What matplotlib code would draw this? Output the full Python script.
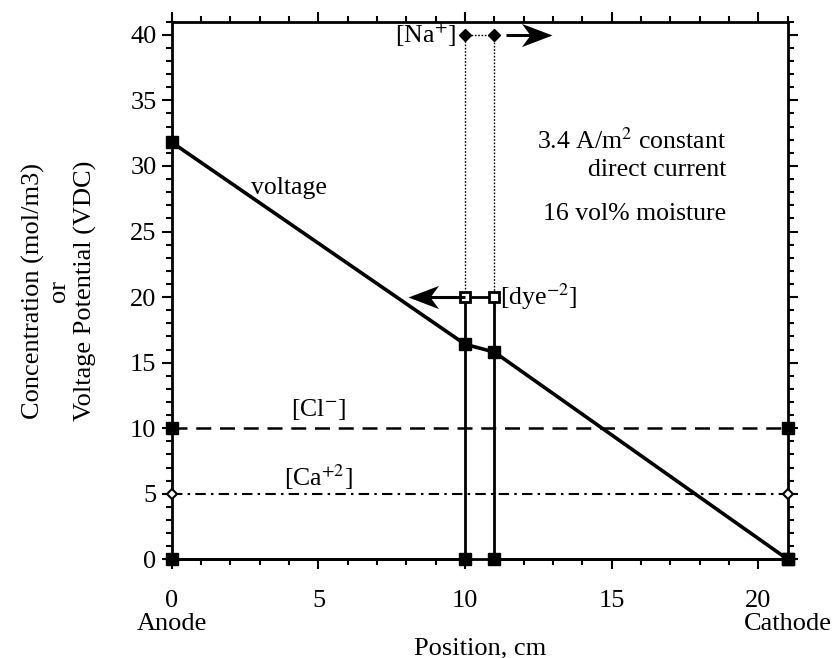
import matplotlib
matplotlib.use("Agg")
import matplotlib.pyplot as plt
from matplotlib.ticker import MultipleLocator
from matplotlib.path import Path

plt.rcParams['font.family'] = ['Liberation Serif', 'DejaVu Serif']
plt.rcParams['mathtext.fontset'] = 'stix'

# Data
volt_x = [0, 10, 11, 21]
volt_y = [31.8, 16.4, 15.8, 0]
cl_x = [0, 21]
cl_y = [10, 10]
ca_x = [0, 21]
ca_y = [5, 5]
dye_x = [0, 10, 10, 11, 11, 21]
dye_y = [0, 0, 20, 20, 0, 0]
na_x = [10, 10, 11, 11]
na_y = [0, 40, 40, 0]
# migration arrows (start, tip) in data units
dye_arrow = ([10, 8.05], [20, 20])
na_arrow = ([11.4, 12.95], [40, 40])

fig = plt.figure(figsize=(8.38, 6.58), dpi=100)
ax = fig.add_axes([0.205, 0.150, 0.735, 0.817])

# barbed arrow-head marker, tip at the origin
def head(direction):
    s = 1 if direction > 0 else -1
    verts = [(0, 0), (-s * 1.0, 0.38), (-s * 0.72, 0), (-s * 1.0, -0.38), (0, 0)]
    codes = [Path.MOVETO, Path.LINETO, Path.LINETO, Path.LINETO, Path.CLOSEPOLY]
    return Path(verts, codes)

# Na+ dotted
ax.plot(na_x, na_y, color='black', lw=1.0, ls=(0, (1.2, 1.2)), zorder=2)
ax.plot([10, 11], [40, 40], ls='none', marker='D', ms=6, color='black', clip_on=False, zorder=4)

# dye
ax.plot(dye_x, dye_y, color='black', lw=2.0, zorder=3, clip_on=False)
ax.plot([10, 11], [20, 20], ls='none', marker='s', ms=6.5, mfc='white', mec='black', mew=2, zorder=4)
ax.plot([0, 10, 11, 21], [0, 0, 0, 0], ls='none', marker='s', ms=8.5, color='black', clip_on=False, zorder=5)

# Cl-
ax.plot(cl_x, cl_y, color='black', lw=1.8, ls=(0, (6, 3.5)), marker='s', ms=8.5, clip_on=False, zorder=3)
# Ca+2
ax.plot(ca_x, ca_y, color='black', lw=1.5, ls=(0, (5, 2.5, 1.2, 2.5)), marker='D', ms=5.5,
        mfc='white', mec='black', mew=1.5, clip_on=False, zorder=3)
# voltage
ax.plot(volt_x, volt_y, color='black', lw=2.6, marker='s', ms=8.5, clip_on=False, zorder=4)

# arrows
for (ax_x, ax_y) in (dye_arrow, na_arrow):
    ax.plot([ax_x[0], ax_x[1] + (0.3 if ax_x[1] < ax_x[0] else -0.3)], ax_y, color='black', lw=2.2,
            solid_capstyle='butt', clip_on=False, zorder=4)
    d = 1 if ax_x[1] > ax_x[0] else -1
    ax.plot([ax_x[1]], [ax_y[1]], ls='none', marker=head(d), ms=44, color='black', mew=0,
            clip_on=False, zorder=4)

fs = 18.5
ax.text(4.0, 28.3, 'voltage', fontsize=fs, ha='center', va='center')
ax.text(5.0, 11.4, r'[Cl$^{-}$]', fontsize=fs, ha='center', va='center')
ax.text(5.0, 6.3, r'[Ca$^{+2}$]', fontsize=fs, ha='center', va='center')
ax.text(9.7, 40, r'[Na$^{+}$]', fontsize=fs, ha='right', va='center')
ax.text(11.2, 20, r'[dye$^{-2}$]', fontsize=fs, ha='left', va='center')
ax.text(18.9, 31.9, r'3.4 A/m$^{2}$ constant', fontsize=fs, ha='right', va='center')
ax.text(18.9, 29.7, 'direct current', fontsize=fs, ha='right', va='center')
ax.text(18.9, 26.3, '16 vol% moisture', fontsize=fs, ha='right', va='center')

ax.set_xlim(0, 21)
ax.set_ylim(0, 41)
ax.set_xticks([0, 5, 10, 15, 20])
ax.set_yticks([0, 5, 10, 15, 20, 25, 30, 35, 40])
ax.xaxis.set_minor_locator(MultipleLocator(1))
ax.yaxis.set_minor_locator(MultipleLocator(1))
ax.tick_params(which='both', direction='out', top=True, right=True, labelsize=19, width=1.5, color='black')
ax.tick_params(which='major', length=7)
ax.tick_params(which='minor', length=4)
ax.tick_params(axis='x', pad=15)
ax.tick_params(axis='y', pad=4)
for s in ax.spines.values():
    s.set_linewidth(2.0)

ax.text(0, -0.099, 'Anode', transform=ax.get_xaxis_transform(), ha='center', va='top', fontsize=19)
ax.text(21, -0.099, 'Cathode', transform=ax.get_xaxis_transform(), ha='center', va='top', fontsize=19)
ax.set_xlabel('Position, cm', fontsize=19)
ax.xaxis.set_label_coords(0.5, -0.145)
ax.set_ylabel('Concentration (mol/m3)\nor\nVoltage Potential (VDC)', fontsize=19, linespacing=1.2)
ax.yaxis.set_label_coords(-0.122, 0.5)

fig.savefig('out.png', dpi=100)
